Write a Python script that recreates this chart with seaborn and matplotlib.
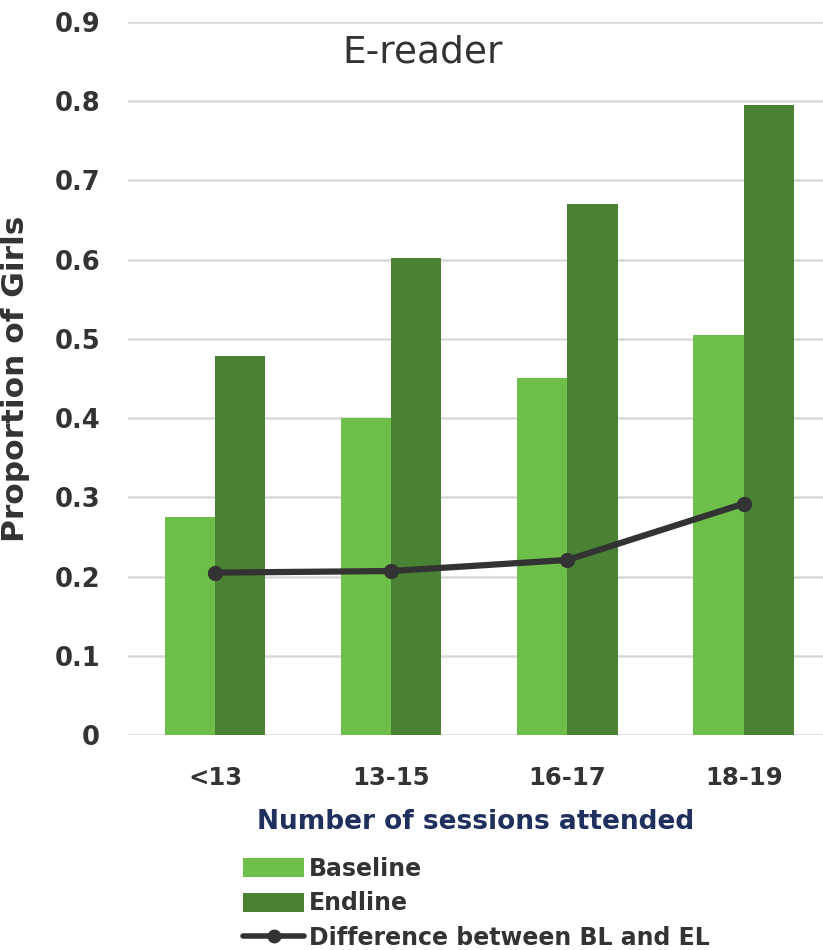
import matplotlib
matplotlib.use("Agg")
import matplotlib.pyplot as plt
import seaborn as sns
import pandas as pd
import numpy as np
from matplotlib.patches import Patch
from matplotlib.lines import Line2D

categories = ["<13", "13-15", "16-17", "18-19"]
baseline = [0.275, 0.400, 0.451, 0.505]
endline = [0.478, 0.602, 0.670, 0.795]
difference = [0.205, 0.207, 0.221, 0.292]
yticks = [0, 0.1, 0.2, 0.3, 0.4, 0.5, 0.6, 0.7, 0.8, 0.9]
ytick_labels = ["0", "0.1", "0.2", "0.3", "0.4", "0.5", "0.6", "0.7", "0.8", "0.9"]

c_base = "#6EBE4A"
c_end = "#4A8233"
c_line = "#333333"
c_text = "#333333"

sns.set_theme(style="white")
plt.rcParams["font.family"] = ["DejaVu Sans"]

df = pd.DataFrame({
    "Session": categories * 2,
    "Value": baseline + endline,
    "Series": ["Baseline"] * 4 + ["Endline"] * 4,
})

fig = plt.figure(figsize=(8.23, 9.5), dpi=100)
ax = fig.add_axes([0.1555, 0.2263, 0.8445, 0.7505])

sns.barplot(data=df, x="Session", y="Value", hue="Series", order=categories,
            hue_order=["Baseline", "Endline"], palette=[c_base, c_end],
            width=0.57, saturation=1, ax=ax, legend=False)
for p in ax.patches:
    p.set_edgecolor("none")

sns.lineplot(x=np.arange(len(categories)), y=difference, ax=ax, color=c_line,
             linewidth=4.5, marker="o", markersize=11, markeredgewidth=0,
             zorder=5)

ax.set_ylim(0, 0.9)
ax.set_xlim(-0.494, 3.45)
ax.set_yticks(yticks)
ax.set_yticklabels(ytick_labels)
ax.yaxis.grid(True, color="#D9D9D9", linewidth=1.8)
ax.set_axisbelow(True)
for s in ax.spines.values():
    s.set_visible(False)
ax.tick_params(axis="y", length=0, labelsize=18.5, labelcolor=c_text, pad=20)
ax.tick_params(axis="x", length=0, labelsize=17.5, labelcolor=c_text, pad=22)
for lab in ax.get_xticklabels() + ax.get_yticklabels():
    lab.set_fontweight("bold")

ax.set_ylabel("Proportion of Girls", fontsize=22.5, fontweight="bold",
              color=c_text)
ax.yaxis.set_label_coords(-0.141, 0.5)
ax.set_xlabel("Number of sessions attended", fontsize=19, fontweight="bold",
              color="#1F2F5E", labelpad=14)

ax.text(0.513, 0.945, "E-reader", transform=fig.transFigure, ha="center",
        va="center", fontsize=27, color=c_text)

handles = [
    Patch(facecolor=c_base, edgecolor="none", label="Baseline"),
    Patch(facecolor=c_end, edgecolor="none", label="Endline"),
    Line2D([0], [0], color=c_line, linewidth=4, marker="o", markersize=9,
           label="Difference between BL and EL"),
]
leg = fig.legend(handles=handles, loc="upper left",
                 bbox_to_anchor=(0.281, 0.1105), frameon=False,
                 fontsize=17, handlelength=2.6, handleheight=0.9,
                 handletextpad=0.2, labelspacing=0.45, borderpad=0)
for t in leg.get_texts():
    t.set_color(c_text)
    t.set_fontweight("bold")

fig.savefig("out.png", dpi=100)
